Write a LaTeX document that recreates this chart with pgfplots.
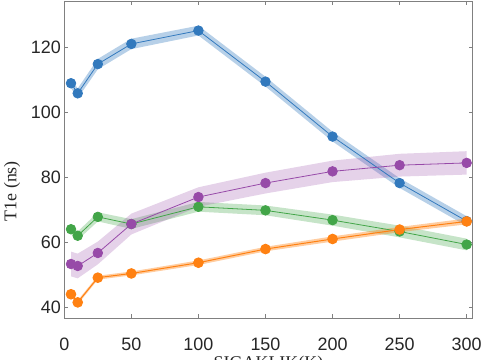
\documentclass[border=0pt]{standalone}
\usepackage{fontspec}
\setmainfont{Liberation Serif}
\setsansfont{Liberation Sans}
\usepackage{pgfplots}
\usepackage{pgfplotstable}
\pgfplotsset{compat=1.18}
\usepgfplotslibrary{fillbetween}
\usetikzlibrary{calc}
\definecolor{cblue}{HTML}{3279BD}
\definecolor{corange}{HTML}{FF8112}
\definecolor{cgreen}{HTML}{42A548}
\definecolor{cpurple}{HTML}{974AA8}
\definecolor{axgray}{HTML}{808080}
\definecolor{tkgray}{HTML}{262626}

\pgfplotstableread{
x y e
5 108.9 1.5
10 105.8 1.5
25 114.8 1.6
50 121.0 1.6
100 125.1 1.5
150 109.4 1.5
200 92.5 1.5
250 78.2 1.5
300 66.5 1.5
}\blue
\pgfplotstableread{
x y e
5 44.0 0.6
10 41.5 0.6
25 49.1 0.6
50 50.4 0.6
100 53.7 0.7
150 57.9 0.7
200 61.0 0.8
250 63.9 0.8
300 66.4 0.9
}\orange
\pgfplotstableread{
x y e
5 64.0 1.3
10 62.0 1.3
25 67.8 1.4
50 65.6 1.5
100 70.9 1.5
150 69.8 1.5
200 66.8 1.7
250 63.3 1.8
300 59.3 1.8
}\green
\pgfplotstableread{
x y e
5 53.3 3.8
10 52.7 3.8
25 56.7 3.5
50 65.6 3.2
100 73.9 3.0
150 78.2 3.2
200 81.8 3.3
250 83.7 3.5
300 84.4 3.6
}\purple

\begin{document}
\begin{tikzpicture}
\begin{axis}[
  scale only axis,
  width=408.4bp, height=317bp,
  xmin=0, xmax=304.5, ymin=36.7, ymax=134.2,
  xtick={0,50,...,300}, ytick={40,60,...,120},
  tick align=inside, tick pos=both,
  major tick length=4bp,
  axis line style={axgray, line width=0.8bp},
  every tick/.style={axgray, line width=0.6bp},
  tick label style={font=\sffamily\fontsize{18}{20}\selectfont, text=tkgray},
  /pgf/number format/assume math mode=true,
  xticklabel style={yshift=-16bp},
  xlabel={SIGAKLIK(K)},
  ylabel={T1e (ns)},
  label style={font=\rmfamily\fontsize{18}{20}\selectfont, text=tkgray},
  xlabel style={at={(axis description cs:0.5,-0.158)}, anchor=base},
  ylabel style={at={(axis description cs:-0.128,0.40)}, anchor=center},
]
\coordinate (ll) at (rel axis cs:0,0);
\coordinate (ur) at (rel axis cs:1,1);
% blue
\addplot[draw=none, name path=bu, forget plot] table[x=x, y expr=\thisrow{y}+\thisrow{e}] {\blue};
\addplot[draw=none, name path=bl, forget plot] table[x=x, y expr=\thisrow{y}-\thisrow{e}] {\blue};
\addplot[cblue, fill opacity=0.35, draw=none] fill between[of=bu and bl];
\addplot[cblue, line width=0.8bp, mark=*, mark size=4.8bp, mark options={draw=none, fill=cblue}] table[x=x,y=y] {\blue};
% green
\addplot[draw=none, name path=gu, forget plot] table[x=x, y expr=\thisrow{y}+\thisrow{e}] {\green};
\addplot[draw=none, name path=gl, forget plot] table[x=x, y expr=\thisrow{y}-\thisrow{e}] {\green};
\addplot[cgreen, fill opacity=0.3, draw=none] fill between[of=gu and gl];
\addplot[cgreen, line width=0.8bp, mark=*, mark size=4.8bp, mark options={draw=none, fill=cgreen}] table[x=x,y=y] {\green};
% purple
\addplot[draw=none, name path=pu, forget plot] table[x=x, y expr=\thisrow{y}+\thisrow{e}] {\purple};
\addplot[draw=none, name path=pl, forget plot] table[x=x, y expr=\thisrow{y}-\thisrow{e}] {\purple};
\addplot[cpurple, fill opacity=0.25, draw=none] fill between[of=pu and pl];
\addplot[cpurple, line width=0.8bp, mark=*, mark size=4.8bp, mark options={draw=none, fill=cpurple}] table[x=x,y=y] {\purple};
% orange
\addplot[draw=none, name path=ou, forget plot] table[x=x, y expr=\thisrow{y}+\thisrow{e}] {\orange};
\addplot[draw=none, name path=ol, forget plot] table[x=x, y expr=\thisrow{y}-\thisrow{e}] {\orange};
\addplot[corange, fill opacity=0.4, draw=none] fill between[of=ou and ol];
\addplot[corange, line width=1bp, mark=*, mark size=4.8bp, mark options={draw=none, fill=corange}] table[x=x,y=y] {\orange};
\end{axis}
\pgfresetboundingbox
\useasboundingbox ($(ll)+(-64.3bp,-42bp)$) rectangle ($(ur)+(12.3bp,1bp)$);
\end{tikzpicture}
\end{document}
